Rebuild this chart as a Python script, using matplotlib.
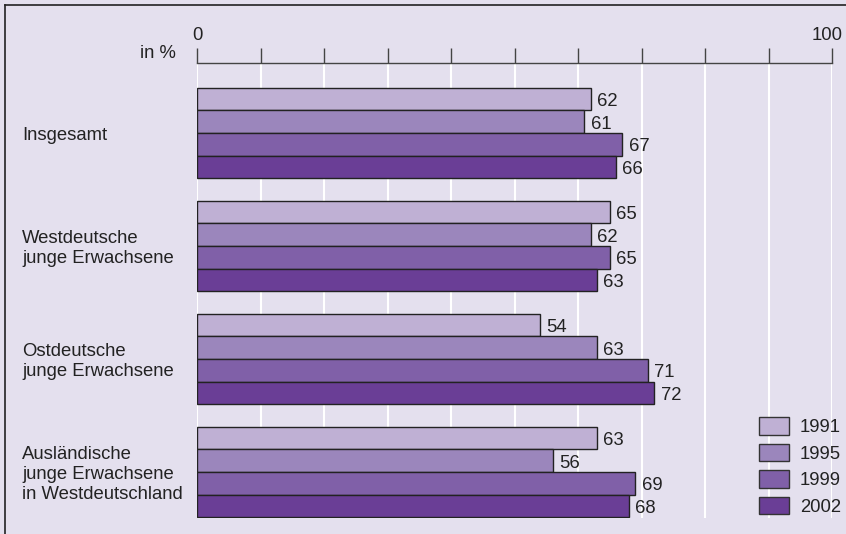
import numpy as np
import matplotlib.pyplot as plt
from matplotlib.patches import Patch
from matplotlib.lines import Line2D
from matplotlib.transforms import ScaledTranslation

plt.rcParams['font.family'] = ['Liberation Sans', 'DejaVu Sans']

# Daten
gruppen = ["Insgesamt", "Westdeutsche\njunge Erwachsene", "Ostdeutsche\njunge Erwachsene",
           "Ausländische\njunge Erwachsene\nin Westdeutschland"]
jahre = ["1991", "1995", "1999", "2002"]
werte = {
    "1991": [62, 65, 54, 63],
    "1995": [61, 62, 63, 56],
    "1999": [67, 65, 71, 69],
    "2002": [66, 63, 72, 68],
}
farben = ["#bfb0d4", "#9b86bc", "#8060a8", "#6a3e96"]
bg = "#e4e0ee"
fs = 13.3

W, H = 846, 534
fig = plt.figure(figsize=(W / 100, H / 100), dpi=100, facecolor=bg)
# Achsenbereich in Pixeln: x 197..832, y 63..518
ax = fig.add_axes([197 / W, 1 - 518 / H, 635 / W, (518 - 63) / H])
ax.set_facecolor(bg)

h = 1.0
y0 = 1.1
for j, jahr in enumerate(jahre):
    ys = [y0 + 5 * i + j * h + h / 2 for i in range(len(gruppen))]
    ax.barh(ys, werte[jahr], height=h, color=farben[j], edgecolor="#222222",
            linewidth=1.0, zorder=3)
    for y, v in zip(ys, werte[jahr]):
        ax.text(v + 1.0, y + 0.1, str(v), va="center", ha="left", fontsize=fs,
                color="#222222", zorder=4)

ax.set_xlim(0, 100)
ax.set_ylim((518 - 63) / 22.6, 0)

# Gitter
for x in range(0, 101, 10):
    ax.axvline(x, color="white", linewidth=1.5, zorder=1)

# Achse oben
ax.xaxis.tick_top()
ax.set_xticks(range(0, 101, 10))
ax.set_xticklabels(["0"] + [""] * 9 + ["100"], fontsize=fs, color="#222222")
ax.tick_params(axis="x", length=11, width=1.0, color="#444444", pad=2.5)
lab = ax.get_xticklabels()[-1]
lab.set_transform(lab.get_transform() + ScaledTranslation(-5 / 100, 0, fig.dpi_scale_trans))
ax.set_yticks([])
for s in ["left", "right", "bottom"]:
    ax.spines[s].set_visible(False)
ax.spines["top"].set_color("#444444")
ax.spines["top"].set_linewidth(1.0)

# Kategorien
for i, g in enumerate(gruppen):
    yc = y0 + 5 * i + 2 * h + 0.1
    ax.text(-175 / 6.35, yc, g, ha="left", va="center", fontsize=fs,
            color="#222222", linespacing=1.25, clip_on=False)

fig.text(176 / W, 1 - 53 / H, "in %", ha="right", va="center", fontsize=fs,
         color="#222222")

# Legende
handles = [Patch(facecolor=c, edgecolor="#333333", linewidth=1.0) for c in farben]
fig.legend(handles, jahre, loc="upper left", bbox_to_anchor=(759 / W, 1 - 417 / H),
           frameon=False, fontsize=fs, handlelength=1.6, handleheight=1.1,
           labelspacing=0.4, borderpad=0, borderaxespad=0, handletextpad=0.6,
           labelcolor="#222222")

# Rahmen
fig.add_artist(Line2D([5 / W, 1], [1 - 5 / H, 1 - 5 / H], color="#222222", linewidth=1.2))
fig.add_artist(Line2D([5 / W, 5 / W], [0, 1 - 5 / H], color="#222222", linewidth=1.2))

fig.savefig("out.png", dpi=100, facecolor=bg)
